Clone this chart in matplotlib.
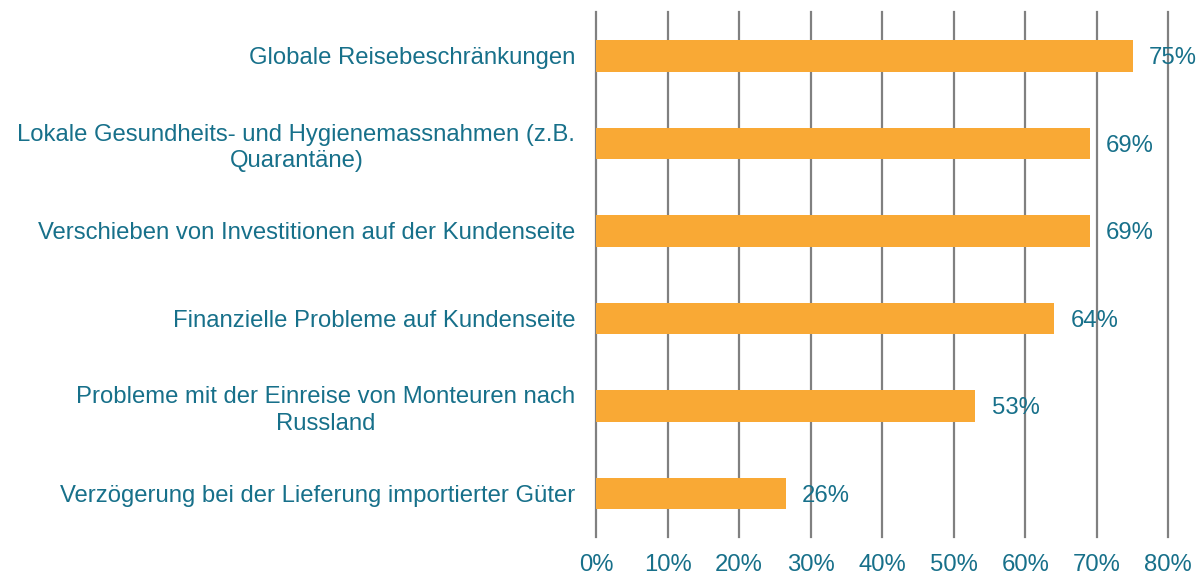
import matplotlib.pyplot as plt
import numpy as np

plt.rcParams['font.family'] = ['Liberation Sans', 'DejaVu Sans']

# categories top to bottom
labels = [
    "Globale Reisebeschränkungen",
    "Lokale Gesundheits- und Hygienemassnahmen (z.B.\nQuarantäne)",
    "Verschieben von Investitionen auf der Kundenseite",
    "Finanzielle Probleme auf Kundenseite",
    "Probleme mit der Einreise von Monteuren nach\nRussland",
    "Verzögerung bei der Lieferung importierter Güter",
]
values = [0.75, 0.69, 0.69, 0.64, 0.53, 0.265]
value_text = ["75%", "69%", "69%", "64%", "53%", "26%"]
xticks = [0, 0.1, 0.2, 0.3, 0.4, 0.5, 0.6, 0.7, 0.8]

teal = "#17708A"
orange = "#F9A935"

fig = plt.figure(figsize=(11.97, 5.77), dpi=100)
ax = fig.add_axes([0.498, 0.069, 0.478, 0.91])

y = np.arange(len(labels))
ax.barh(y, values, height=0.36, color=orange, zorder=2)

for yi, v, t in zip(y, values, value_text):
    ax.text(v + 0.023, yi, t, va='center_baseline', ha='left', fontsize=17.2,
            color=teal, zorder=3)

ax.set_xlim(0, 0.8)
ax.set_ylim(len(labels) - 0.5, -0.5)
ax.set_xticks(xticks)
ax.set_xticklabels([f"{int(round(t * 100))}%" for t in xticks])
ax.set_yticks(y)
ax.set_yticklabels(labels, multialignment='center', linespacing=1.25)

for s in ax.spines.values():
    s.set_visible(False)
ax.tick_params(axis='both', length=0, labelsize=17.2, labelcolor=teal)
ax.tick_params(axis='x', pad=12)
ax.tick_params(axis='y', pad=15)

for t in xticks:
    ax.axvline(t, color='#808080', lw=1.6, zorder=1, clip_on=False)

fig.savefig("out.png", dpi=100)
